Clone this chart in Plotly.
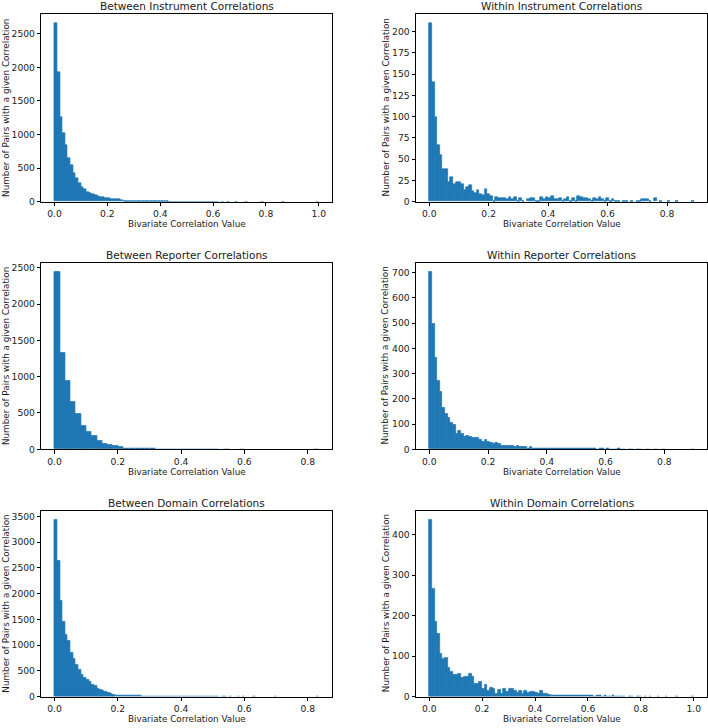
import plotly.graph_objects as go

# ---------------- data ----------------
titles = ["Between Instrument Correlations", "Within Instrument Correlations",
          "Between Reporter Correlations", "Within Reporter Correlations",
          "Between Domain Correlations", "Within Domain Correlations"]

# data range (min, max) of each histogram; bins split this range evenly
data_min = [0.0, 0.0, 0.0, 0.0, 0.0, 0.0]
data_max = [1.0, 0.89, 0.835, 0.9, 0.835, 1.0]

counts_between_instrument = [
    2660, 1935, 1255, 1020, 840, 650, 550, 430, 345, 280,
    220, 182, 145, 128, 118, 100, 84, 70, 60, 50,
    48, 42, 37, 33, 30, 27, 25, 23, 21, 20,
    19, 18, 17, 15, 14, 13, 12, 11, 10, 9,
    8, 7, 7, 6, 5, 4, 4, 3, 3, 3,
    2, 2, 2, 2, 2, 1, 1, 1, 1, 1,
    1, 1, 0, 1, 0, 1, 0, 0, 1, 0,
    0, 0, 1, 0, 0, 0, 0, 0, 1, 0,
    0, 0, 0, 0, 0, 0, 1, 0, 0, 0,
    0, 0, 0, 0, 0, 0, 0, 0, 0, 1]

counts_within_instrument = [
    210, 141, 99, 66, 55, 38, 38, 23, 29, 21,
    23, 23, 20, 14, 17, 19, 12, 10, 14, 9,
    8, 15, 9, 6, 2, 5, 4, 4, 4, 3,
    5, 3, 5, 2, 4, 1, 0, 3, 4, 4,
    1, 2, 5, 3, 5, 4, 6, 3, 3, 4,
    2, 3, 5, 1, 4, 2, 6, 5, 4, 4,
    3, 2, 4, 3, 5, 3, 2, 4, 1, 3,
    1, 2, 0, 2, 1, 0, 1, 0, 2, 2,
    3, 3, 3, 2, 0, 4, 0, 1, 0, 0,
    1, 0, 0, 1, 0, 0, 0, 0, 0, 1]

counts_between_reporter = [
    2446, 1329, 944, 653, 495, 327, 240, 190, 118, 82,
    59, 50, 27, 23, 14, 18, 14, 9, 7, 5,
    5, 4, 3, 3, 2, 2, 1, 2, 1, 1,
    1, 0, 1, 0, 0, 1, 0, 0, 0, 0,
    0, 0, 0, 0, 0, 0, 0, 0, 0, 1]

counts_within_reporter = [
    704, 496, 363, 270, 226, 165, 141, 126, 106, 97,
    63, 73, 60, 50, 52, 50, 46, 47, 47, 38,
    31, 37, 30, 27, 22, 27, 20, 14, 14, 13,
    12, 14, 11, 12, 9, 10, 8, 7, 9, 6,
    7, 6, 5, 6, 5, 7, 4, 5, 4, 4,
    5, 3, 4, 3, 3, 3, 2, 3, 2, 2,
    3, 2, 2, 1, 2, 2, 1, 2, 1, 1,
    1, 2, 1, 1, 0, 1, 1, 0, 1, 1,
    0, 0, 1, 0, 0, 1, 0, 0, 1, 0,
    0, 0, 0, 0, 0, 0, 0, 0, 0, 1]

counts_between_domain = [
    3440, 2645, 1860, 1461, 1210, 1088, 849, 740, 618, 521,
    425, 360, 335, 283, 238, 200, 154, 122, 103, 84,
    64, 45, 39, 32, 28, 25, 22, 20, 19, 18,
    17, 16, 15, 14, 13, 12, 11, 10, 9, 9,
    8, 7, 7, 6, 6, 5, 5, 4, 4, 3,
    3, 3, 2, 2, 2, 1, 1, 1, 1, 1,
    1, 1, 0, 1, 1, 0, 1, 0, 0, 1,
    0, 1, 0, 0, 0, 1, 0, 0, 0, 0,
    0, 0, 0, 1, 0, 0, 0, 0, 0, 0,
    0, 0, 0, 0, 0, 0, 0, 0, 0, 1]

counts_within_domain = [
    437, 267, 184, 156, 105, 93, 96, 71, 60, 54,
    54, 56, 46, 48, 48, 56, 48, 32, 32, 36,
    20, 29, 13, 22, 20, 7, 17, 8, 20, 12,
    19, 19, 14, 9, 13, 8, 15, 10, 12, 12,
    10, 8, 13, 7, 6, 5, 3, 2, 3, 2,
    2, 3, 3, 3, 4, 3, 3, 2, 3, 3,
    2, 3, 1, 2, 2, 1, 2, 1, 1, 2,
    1, 1, 1, 1, 0, 1, 1, 0, 1, 1,
    0, 1, 0, 1, 0, 0, 1, 0, 0, 1,
    0, 0, 0, 1, 0, 0, 0, 0, 0, 1]

all_counts = [counts_between_instrument, counts_within_instrument,
              counts_between_reporter, counts_within_reporter,
              counts_between_domain, counts_within_domain]

x_tick_vals = [[0.0, 0.2, 0.4, 0.6, 0.8, 1.0], [0.0, 0.2, 0.4, 0.6, 0.8],
               [0.0, 0.2, 0.4, 0.6, 0.8], [0.0, 0.2, 0.4, 0.6, 0.8],
               [0.0, 0.2, 0.4, 0.6, 0.8], [0.0, 0.2, 0.4, 0.6, 0.8, 1.0]]
y_tick_vals = [[0, 500, 1000, 1500, 2000, 2500],
               [0, 25, 50, 75, 100, 125, 150, 175, 200],
               [0, 500, 1000, 1500, 2000, 2500],
               [0, 100, 200, 300, 400, 500, 600, 700],
               [0, 500, 1000, 1500, 2000, 2500, 3000, 3500],
               [0, 100, 200, 300, 400]]

x_label = "Bivariate Correlation Value"
y_label = "Number of Pairs with a given Correlation"

# ---------------- layout geometry ----------------
W, H = 708, 728
col_px = [(41.3, 332.0), (416.0, 707.0)]
row_px = [(13.3, 202.3), (264.0, 452.0), (514.0, 701.3)]
FONT = "DejaVu Sans"
TXT = "#1a1a1a"
BLUE = "#1f77b4"

fig = go.Figure()
annotations = []
layout_axes = {}

for i in range(6):
    r, c = divmod(i, 2)
    x0p, x1p = col_px[c]
    y0p, y1p = row_px[r]
    counts = all_counts[i]
    n = len(counts)
    lo, hi = data_min[i], data_max[i]
    w = (hi - lo) / n
    centers = [lo + (k + 0.5) * w for k in range(n)]
    cmax = max(counts)
    # thin same-colour edge only on clearly visible bars (closes anti-alias seams)
    edge_w = [0.7 if v >= 0.01 * cmax else 0 for v in counts]
    ax = "" if i == 0 else str(i + 1)
    fig.add_trace(go.Bar(x=centers, y=counts, width=w, xaxis="x" + ax, yaxis="y" + ax,
                         marker=dict(color=BLUE, line=dict(width=edge_w, color=BLUE)),
                         showlegend=False, hoverinfo="x+y"))
    span = hi - lo
    xr = [lo - 0.05 * span, hi + 0.05 * span]
    yr = [0, cmax * 1.05]
    common = dict(showline=True, mirror=True, linecolor="black", linewidth=1,
                  ticks="outside", ticklen=3.5, tickwidth=1, tickcolor="black",
                  showgrid=False, zeroline=False,
                  tickfont=dict(family=FONT, size=9.2, color=TXT))
    layout_axes["xaxis" + ax] = dict(domain=[x0p / W, x1p / W], range=xr, anchor="y" + ax,
                                     tickvals=x_tick_vals[i], tickformat=".1f", **common)
    layout_axes["yaxis" + ax] = dict(domain=[1 - y1p / H, 1 - y0p / H], range=yr, anchor="x" + ax,
                                     tickvals=y_tick_vals[i], **common)
    xc = (x0p + x1p) / 2 / W
    # title
    annotations.append(dict(text=titles[i], x=xc, y=1 - (y0p - 8) / H, xref="paper", yref="paper",
                            xanchor="center", yanchor="middle", showarrow=False,
                            font=dict(family=FONT, size=10.5, color=TXT)))
    # x label
    annotations.append(dict(text=x_label, x=xc, y=1 - (y1p + 22.5) / H, xref="paper", yref="paper",
                            xanchor="center", yanchor="middle", showarrow=False,
                            font=dict(family=FONT, size=8.8, color=TXT)))
    # y label
    ylx = 6.0 if c == 0 else 385.5
    annotations.append(dict(text=y_label, x=ylx / W, y=1 - (y0p + y1p) / 2 / H, xref="paper",
                            yref="paper", xanchor="center", yanchor="middle", showarrow=False,
                            textangle=-90, font=dict(family=FONT, size=8.8, color=TXT)))

fig.update_layout(width=W, height=H, margin=dict(l=0, r=0, t=0, b=0),
                  paper_bgcolor="white", plot_bgcolor="white", bargap=0,
                  annotations=annotations, showlegend=False, **layout_axes)

fig.write_html("out.html", config={"displayModeBar": False},
               post_script="document.body.style.margin='0px';")
